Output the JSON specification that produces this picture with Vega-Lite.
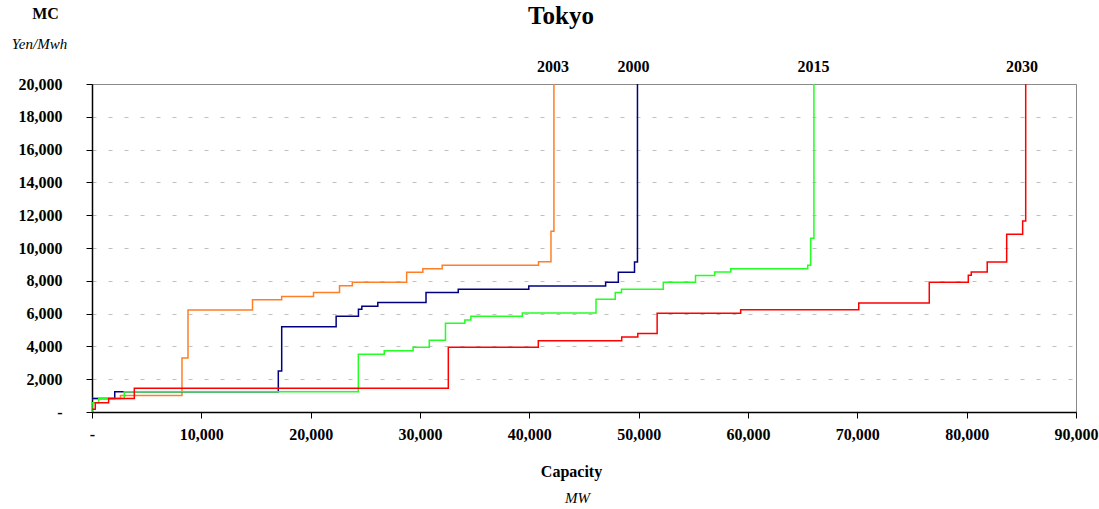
{
  "$schema": "https://vega.github.io/schema/vega-lite/v6.json",
  "width": 984,
  "height": 328,
  "autosize": "none",
  "padding": {"left": 92, "top": 84, "right": 23, "bottom": 97},
  "background": "white",
  "config": {"view": {"stroke": "#8a8a8a", "strokeWidth": 1}, "font": "Liberation Serif"},
  "title": {"text": "Tokyo", "font": "Liberation Serif", "fontSize": 25, "fontWeight": "bold", "color": "black", "anchor": "middle", "frame": "group", "dx": -23, "dy": 36, "baseline": "middle", "offset": 0},
  "layer": [
    {
      "data": {"values": [
        {"s": "2003", "i": 0, "x": 0, "y": 830},
        {"s": "2003", "i": 1, "x": 2600, "y": 1000},
        {"s": "2003", "i": 2, "x": 8230, "y": 3300},
        {"s": "2003", "i": 3, "x": 8780, "y": 6220},
        {"s": "2003", "i": 4, "x": 14680, "y": 6850},
        {"s": "2003", "i": 5, "x": 17350, "y": 7050},
        {"s": "2003", "i": 6, "x": 20260, "y": 7280},
        {"s": "2003", "i": 7, "x": 22640, "y": 7700},
        {"s": "2003", "i": 8, "x": 23810, "y": 7910},
        {"s": "2003", "i": 9, "x": 28780, "y": 8520},
        {"s": "2003", "i": 10, "x": 30260, "y": 8740},
        {"s": "2003", "i": 11, "x": 32030, "y": 8950},
        {"s": "2003", "i": 12, "x": 40840, "y": 9160},
        {"s": "2003", "i": 13, "x": 41980, "y": 11020},
        {"s": "2003", "i": 14, "x": 42250, "y": 20000},
        {"s": "2000", "i": 0, "x": 0, "y": 830},
        {"s": "2000", "i": 1, "x": 2080, "y": 1240},
        {"s": "2000", "i": 2, "x": 17040, "y": 2500},
        {"s": "2000", "i": 3, "x": 17350, "y": 5200},
        {"s": "2000", "i": 4, "x": 22330, "y": 5840},
        {"s": "2000", "i": 5, "x": 24370, "y": 6260},
        {"s": "2000", "i": 6, "x": 24680, "y": 6450},
        {"s": "2000", "i": 7, "x": 26140, "y": 6680},
        {"s": "2000", "i": 8, "x": 30550, "y": 7290},
        {"s": "2000", "i": 9, "x": 33500, "y": 7490},
        {"s": "2000", "i": 10, "x": 39950, "y": 7680},
        {"s": "2000", "i": 11, "x": 46980, "y": 7910},
        {"s": "2000", "i": 12, "x": 48140, "y": 8520},
        {"s": "2000", "i": 13, "x": 49620, "y": 9150},
        {"s": "2000", "i": 14, "x": 49890, "y": 20000},
        {"s": "2015", "i": 0, "x": 0, "y": 0},
        {"s": "2015", "i": 1, "x": 0, "y": 570},
        {"s": "2015", "i": 2, "x": 610, "y": 830},
        {"s": "2015", "i": 3, "x": 2950, "y": 1240},
        {"s": "2015", "i": 4, "x": 24360, "y": 3520},
        {"s": "2015", "i": 5, "x": 26730, "y": 3740},
        {"s": "2015", "i": 6, "x": 29370, "y": 3950},
        {"s": "2015", "i": 7, "x": 30850, "y": 4380},
        {"s": "2015", "i": 8, "x": 32330, "y": 5410},
        {"s": "2015", "i": 9, "x": 34100, "y": 5610},
        {"s": "2015", "i": 10, "x": 34650, "y": 5840},
        {"s": "2015", "i": 11, "x": 39360, "y": 6040},
        {"s": "2015", "i": 12, "x": 46100, "y": 6870},
        {"s": "2015", "i": 13, "x": 47860, "y": 7280},
        {"s": "2015", "i": 14, "x": 48430, "y": 7480},
        {"s": "2015", "i": 15, "x": 52250, "y": 7910},
        {"s": "2015", "i": 16, "x": 55200, "y": 8320},
        {"s": "2015", "i": 17, "x": 56950, "y": 8540},
        {"s": "2015", "i": 18, "x": 58420, "y": 8740},
        {"s": "2015", "i": 19, "x": 65460, "y": 8950},
        {"s": "2015", "i": 20, "x": 65730, "y": 10590},
        {"s": "2015", "i": 21, "x": 66030, "y": 20000},
        {"s": "2030", "i": 0, "x": 0, "y": 165},
        {"s": "2030", "i": 1, "x": 300, "y": 570},
        {"s": "2030", "i": 2, "x": 1520, "y": 830},
        {"s": "2030", "i": 3, "x": 3870, "y": 1450},
        {"s": "2030", "i": 4, "x": 32590, "y": 3950},
        {"s": "2030", "i": 5, "x": 40820, "y": 4350},
        {"s": "2030", "i": 6, "x": 48450, "y": 4570},
        {"s": "2030", "i": 7, "x": 49920, "y": 4780},
        {"s": "2030", "i": 8, "x": 51690, "y": 6020},
        {"s": "2030", "i": 9, "x": 59330, "y": 6230},
        {"s": "2030", "i": 10, "x": 70130, "y": 6650},
        {"s": "2030", "i": 11, "x": 76580, "y": 7910},
        {"s": "2030", "i": 12, "x": 80150, "y": 8340},
        {"s": "2030", "i": 13, "x": 80420, "y": 8540},
        {"s": "2030", "i": 14, "x": 81880, "y": 9150},
        {"s": "2030", "i": 15, "x": 83660, "y": 10840},
        {"s": "2030", "i": 16, "x": 85120, "y": 11650},
        {"s": "2030", "i": 17, "x": 85400, "y": 20000}
      ]},
      "mark": {"type": "line", "interpolate": "step-after", "strokeWidth": 1.5},
      "encoding": {
        "x": {"field": "x", "type": "quantitative", "scale": {"domain": [0, 90000], "nice": false, "zero": false},
          "axis": {"title": "Capacity", "titleFont": "Liberation Serif", "titleFontSize": 16, "titleFontWeight": "bold", "titleColor": "black", "titleX": 479, "titleY": 59, "titleBaseline": "middle", "titleAnchor": null, "titleAlign": "center",
            "values": [0, 10000, 20000, 30000, 40000, 50000, 60000, 70000, 80000, 90000],
            "labelExpr": "datum.value === 0 ? '-\u00a0\u00a0\u00a0\u00a0\u00a0' : format(datum.value, ',')",
            "labelFont": "Liberation Serif", "labelFontSize": 16, "labelFontWeight": "bold", "labelColor": "black", "labelPadding": 8, "labelFlush": false, "labelOverlap": false, "labelBound": false,
            "tickSize": 6, "tickColor": "black", "domainColor": "black", "domainWidth": 1.5, "grid": false}},
        "y": {"field": "y", "type": "quantitative", "scale": {"domain": [0, 20000], "nice": false},
          "axis": {"title": "MC", "titleFont": "Liberation Serif", "titleFontSize": 16, "titleFontWeight": "bold", "titleColor": "black", "titleAngle": 0, "titleX": -47, "titleY": -71, "titleAlign": "center", "titleBaseline": "middle", "titleAnchor": null,
            "values": [0, 2000, 4000, 6000, 8000, 10000, 12000, 14000, 16000, 18000, 20000],
            "labelExpr": "datum.value === 0 ? '-\u00a0\u00a0' : format(datum.value, ',')",
            "labelFont": "Liberation Serif", "labelFontSize": 16, "labelFontWeight": "bold", "labelColor": "black", "labelPadding": 24, "labelOverlap": false, "labelBound": false, "labelFlush": false,
            "tickSize": 6, "tickColor": "black", "domainColor": "black", "domainWidth": 1.5,
            "grid": true,
            "gridDash": {"condition": {"test": "datum.value === 20000", "value": []}, "value": [4, 12]},
            "gridColor": {"condition": {"test": "datum.value === 20000", "value": "#8a8a8a"}, "value": "#c0c0c0"},
            "gridWidth": 1}},
        "color": {"field": "s", "type": "nominal", "scale": {"domain": ["2003", "2000", "2015", "2030"], "range": ["#FF7F27", "#000080", "#22FF22", "#FF0000"]}, "legend": null},
        "order": {"field": "i", "type": "quantitative"}
      }
    },
    {
      "data": {"values": [
        {"label": "2003", "x": 42160},
        {"label": "2000", "x": 49530},
        {"label": "2015", "x": 65990},
        {"label": "2030", "x": 85060}
      ]},
      "mark": {"type": "text", "font": "Liberation Serif", "fontSize": 16, "fontWeight": "bold", "color": "black", "align": "center", "baseline": "alphabetic", "dy": -12},
      "encoding": {
        "x": {"field": "x", "type": "quantitative", "scale": {"domain": [0, 90000], "nice": false, "zero": false},
          "axis": {"orient": "bottom", "title": "MW", "titleFont": "Liberation Serif", "titleFontSize": 15, "titleFontWeight": "normal", "titleFontStyle": "italic", "titleColor": "black", "titleX": 485, "titleY": 85, "titleBaseline": "middle", "titleAnchor": null, "titleAlign": "center",
            "labels": false, "ticks": false, "domain": false, "grid": false}},
        "y": {"datum": 20000, "type": "quantitative",
          "axis": {"orient": "left", "title": "Yen/Mwh", "titleFont": "Liberation Serif", "titleFontSize": 15, "titleFontWeight": "normal", "titleFontStyle": "italic", "titleColor": "black", "titleAngle": 0, "titleX": -53, "titleY": -41, "titleAlign": "center", "titleBaseline": "middle", "titleAnchor": null,
            "labels": false, "ticks": false, "domain": false, "grid": false}},
        "text": {"field": "label", "type": "nominal"}
      }
    }
  ],
  "resolve": {"axis": {"x": "independent", "y": "independent"}}
}
